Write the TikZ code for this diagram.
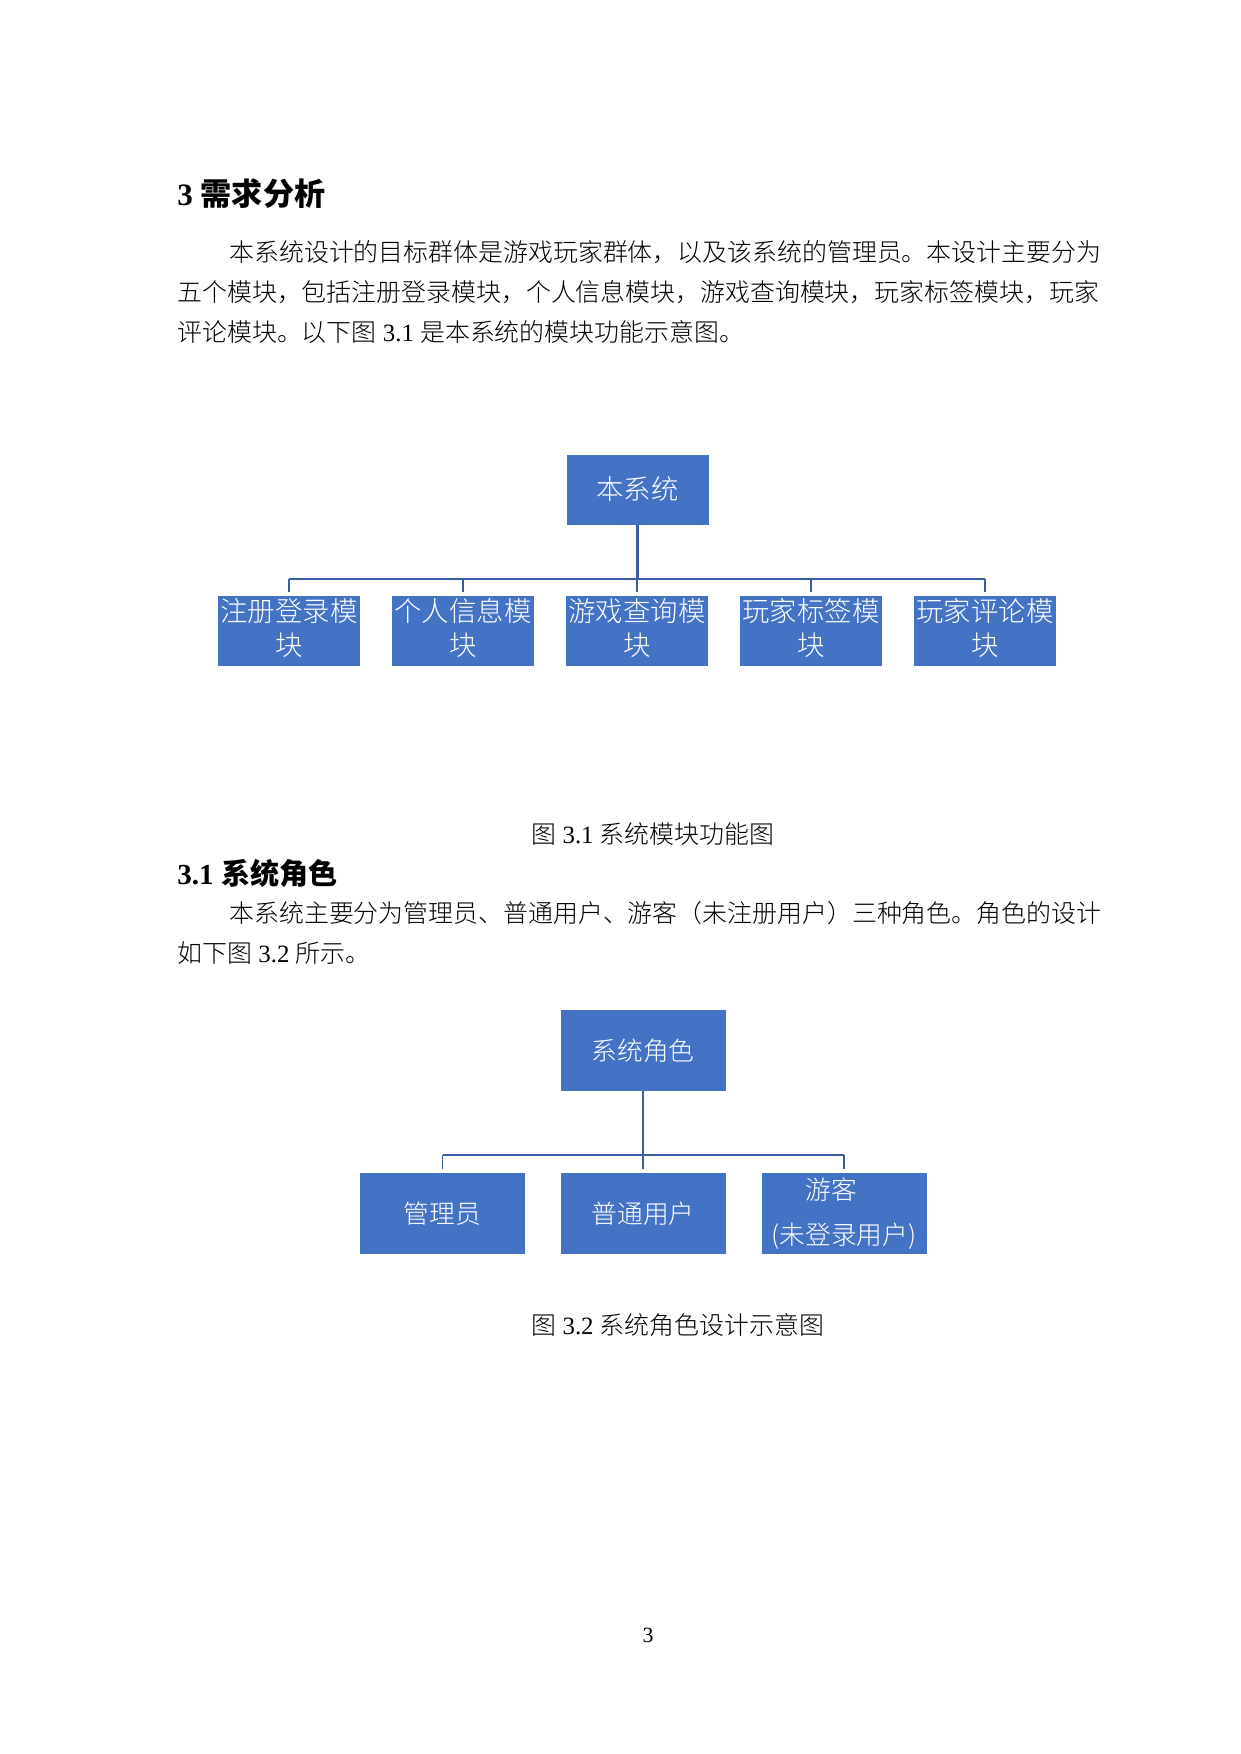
\documentclass[tikz,border=0pt]{standalone}
\usepackage{fontspec}
\setmainfont{Liberation Serif}
\newfontfamily\cjk{Noto Sans CJK SC}
\newfontfamily\cjkl{Noto Sans CJK SC Light}
\newcommand\lat[1]{{\rmfamily #1}}
\newcommand\twoln[2]{\raisebox{-0.5pt}[\height][\depth]{\begin{tabular}{@{}c@{}}#1\\#2\end{tabular}}}
\definecolor{boxblue}{HTML}{4472C4}
\definecolor{linkblue}{HTML}{3A5D9F}
\def\u{0.4818pt}
\tikzset{
  box/.style={fill=boxblue, draw=none, inner sep=0pt, text=white, align=center},
  boxa/.style={box, minimum width=142*\u, minimum height=70*\u, font=\cjkl\fontsize{13.2}{16.4}\selectfont},
  boxb/.style={box, minimum width=165*\u, minimum height=81*\u, font=\cjkl\fontsize{12.4}{22}\selectfont},
  link/.style={draw=linkblue, line width=0.9pt},
  mainlink/.style={draw=linkblue, line width=1.3pt},
  body/.style={anchor=base west, inner sep=0pt, font=\cjkl\fontsize{12}{14}\selectfont},
  head/.style={anchor=base west, inner sep=0pt},
}
\begin{document}
\begin{tikzpicture}[x=0.4818pt, y=-0.4818pt]
\useasboundingbox (0,0) rectangle (1240,1754);
\fill[white] (0,0) rectangle (1240,1754);

% headings and text
\node[head, font=\fontsize{15}{18}\selectfont\bfseries] (h1) at (177,206) {3 {\cjk\bfseries 需求分析}};
\node[body] (p1) at (229,261.5) {本系统设计的目标群体是游戏玩家群体，以及该系统的管理员。本设计主要分为};
\node[body] (p2) at (177,301.5) {五个模块，包括注册登录模块，个人信息模块，游戏查询模块，玩家标签模块，玩家};
\node[body] (p3) at (177,341.5) {评论模块。以下图\lat{ 3.1 }是本系统的模块功能示意图。};

% diagram 1
\node[boxa] (sys) at (637.5,489.5) {本系统};
\node[boxa] (m1) at (289,631) {\twoln{注册登录模}{块}};
\node[boxa] (m2) at (463,631) {\twoln{个人信息模}{块}};
\node[boxa] (m3) at (637,631) {\twoln{游戏查询模}{块}};
\node[boxa] (m4) at (811,631) {\twoln{玩家标签模}{块}};
\node[boxa] (m5) at (985,631) {\twoln{玩家评论模}{块}};
\coordinate (bar1) at (637.5,579);
\draw[mainlink] (sys.south) -- (bar1);
\draw[mainlink] (m1.north |- bar1) -- (m5.north |- bar1);
\foreach \m in {m1,m2,m3,m4,m5} {
  \draw[link] (\m.north |- bar1) -- ([yshift=1.5pt]\m.north);
}

\node[body] (cap1) at (531,843.5) {图\lat{ 3.1 }系统模块功能图};

\node[head, font=\fontsize{14}{17}\selectfont\bfseries] (h2) at (177,884) {3.1 {\cjk\bfseries 系统角色}};
\node[body] (q1) at (229,922.5) {本系统主要分为管理员、普通用户、游客（未注册用户）三种角色。角色的设计};
\node[body] (q2) at (177,962.5) {如下图\lat{ 3.2 }所示。};

% diagram 2
\node[boxb] (role) at (643,1050.5) {系统角色};
\node[boxb] (r1) at (442.5,1213.5) {管理员};
\node[boxb] (r2) at (643,1213.5) {普通用户};
\node[boxb] (r3) at (844,1213.5) {游客\hspace*{1em}\\(未登录用户)};
\coordinate (bar2) at (643,1155);
\draw[link] (role.south) -- ([yshift=1.5pt]r2.north);
\draw[mainlink, line width=1.1pt] (r1.north |- bar2) -- (r3.north |- bar2);
\draw[link] (r1.north |- bar2) -- ([yshift=1.5pt]r1.north);
\draw[link] (r3.north |- bar2) -- ([yshift=1.5pt]r3.north);

\node[body] (cap2) at (531,1334.5) {图\lat{ 3.2 }系统角色设计示意图};

\node[anchor=base, inner sep=0pt, font=\fontsize{10.5}{12}\selectfont] (pg) at (648,1642) {3};
\end{tikzpicture}
\end{document}
